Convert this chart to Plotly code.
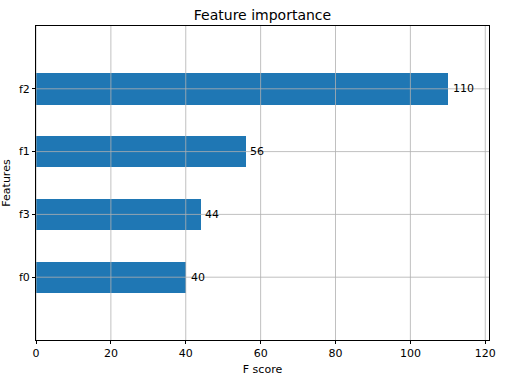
import plotly.graph_objects as go

features = ["f0", "f3", "f1", "f2"]
scores = [40, 44, 56, 110]
x_ticks = [0, 20, 40, 60, 80, 100, 120]

fig = go.Figure()
fig.add_trace(go.Bar(
    x=scores, y=features, orientation="h", width=0.5,
    marker=dict(color="#1f77b4", line=dict(width=0)),
    hoverinfo="x+y",
))

grid_color = "#b0b0b0"
shapes = []
for t in x_ticks:
    shapes.append(dict(type="line", xref="x", yref="paper", x0=t, x1=t, y0=0, y1=1,
                       line=dict(color=grid_color, width=0.8), layer="above"))
for f in features:
    shapes.append(dict(type="line", xref="paper", yref="y", x0=0, x1=1, y0=f, y1=f,
                       line=dict(color=grid_color, width=0.8), layer="above"))
fig.update_layout(shapes=shapes)

for f, s in zip(features, scores):
    fig.add_annotation(x=s + 1, y=f, text=str(s), showarrow=False,
                       xanchor="left", yanchor="middle", borderpad=0,
                       font=dict(size=11, color="black"))

font_family = "DejaVu Sans"
fig.update_layout(
    width=506, height=378,
    margin=dict(l=36, r=17, t=26, b=38, autoexpand=False),
    plot_bgcolor="white", paper_bgcolor="white",
    font=dict(family=font_family, size=11, color="black"),
    title=dict(text="Feature importance", x=0.5, xanchor="center",
               y=1 - 15 / 378, yanchor="middle", yref="container",
               xref="paper", font=dict(size=14)),
    showlegend=False,
    bargap=0,
)
fig.update_xaxes(
    range=[0, 121], tickvals=x_ticks, ticks="outside", ticklen=3, tickcolor="black",
    showline=True, linecolor="black", linewidth=1, mirror=True, showgrid=False,
    zeroline=False, automargin=False,
    title=dict(text="F score", standoff=6, font=dict(size=11)),
)
fig.update_yaxes(
    type="category", categoryorder="array", categoryarray=features, range=[-1, 4],
    ticks="outside", ticklen=3, tickcolor="black",
    showline=True, linecolor="black", linewidth=1, mirror=True, showgrid=False,
    zeroline=False, automargin=False,
    title=dict(text="Features", standoff=6, font=dict(size=11)),
)

fig.write_html(
    "out.html",
    config={"displayModeBar": False},
    post_script="document.body.style.margin='0';document.body.style.overflow='hidden';",
)
